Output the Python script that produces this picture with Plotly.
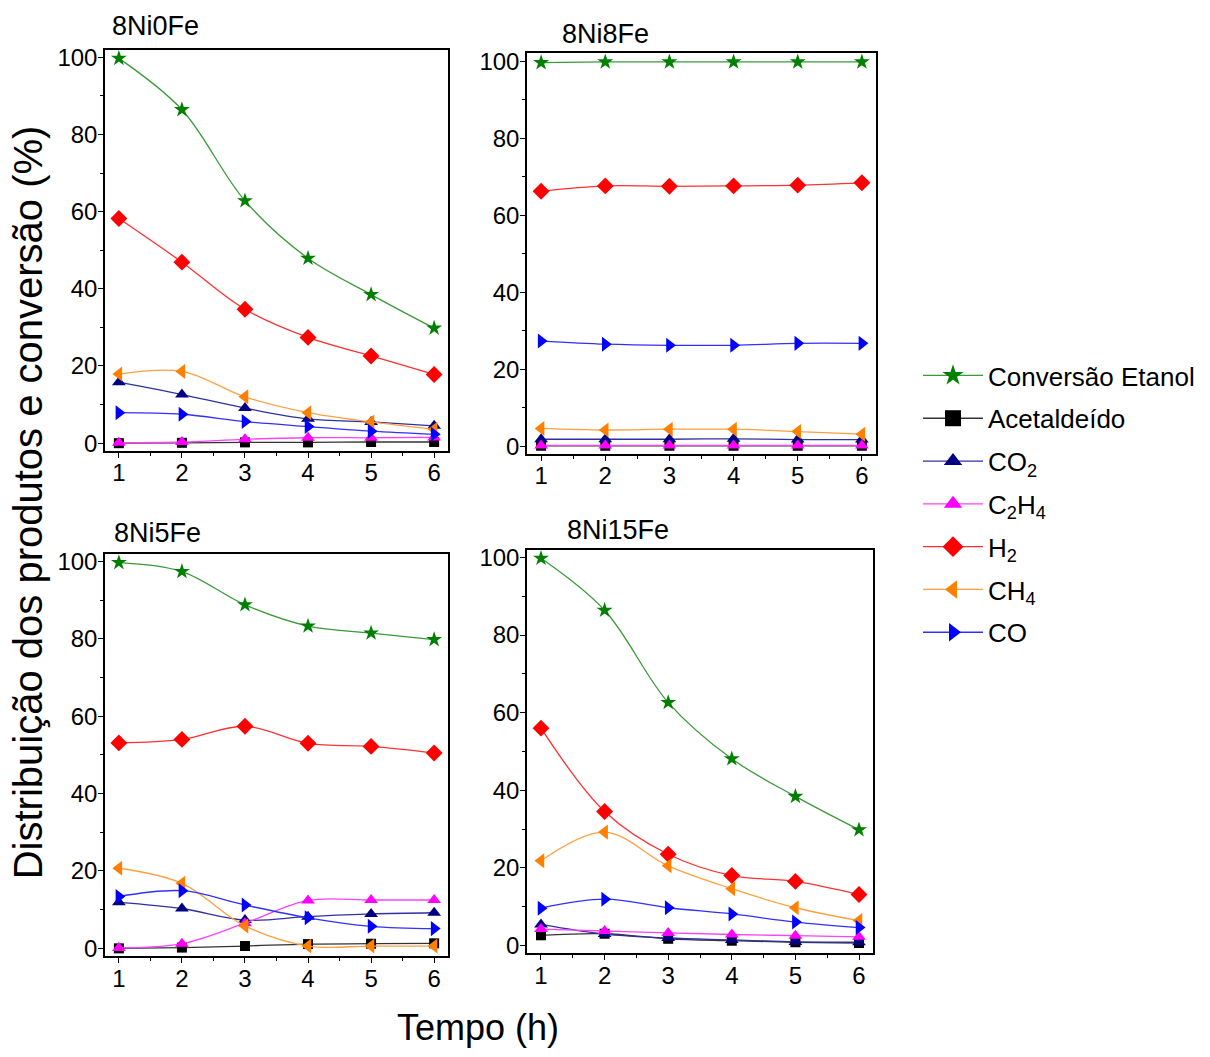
import plotly.graph_objects as go

# ---------------- data ----------------
tempo = [1, 2, 3, 4, 5, 6]
panels = ["8Ni0Fe", "8Ni8Fe", "8Ni5Fe", "8Ni15Fe"]

series_names = ["Conversão Etanol", "Acetaldeído", "CO<sub>2</sub>", "C<sub>2</sub>H<sub>4</sub>",
                "H<sub>2</sub>", "CH<sub>4</sub>", "CO"]

# 8Ni0Fe
ni0_conv = [99.7, 86.4, 62.8, 47.9, 38.5, 29.8]
ni0_acet = [0.0, 0.1, 0.2, 0.2, 0.3, 0.3]
ni0_co2 = [15.8, 12.6, 9.1, 6.3, 5.5, 4.5]
ni0_c2h4 = [0.1, 0.3, 1.0, 1.4, 1.4, 1.5]
ni0_h2 = [58.2, 46.9, 34.7, 27.4, 22.6, 17.8]
ni0_ch4 = [17.9, 18.6, 12.0, 7.9, 5.5, 3.6]
ni0_co = [7.9, 7.5, 5.6, 4.3, 3.1, 2.3]

# 8Ni8Fe
ni8_conv = [99.6, 99.8, 99.8, 99.8, 99.8, 99.8]
ni8_acet = [0.1, 0.1, 0.1, 0.1, 0.1, 0.1]
ni8_co2 = [1.8, 1.8, 1.8, 1.9, 1.7, 1.7]
ni8_c2h4 = [0.2, 0.2, 0.2, 0.2, 0.2, 0.2]
ni8_h2 = [66.2, 67.6, 67.5, 67.6, 67.8, 68.4]
ni8_ch4 = [4.6, 4.2, 4.4, 4.4, 3.8, 3.1]
ni8_co = [27.3, 26.5, 26.2, 26.2, 26.7, 26.7]

# 8Ni5Fe
ni5_conv = [99.7, 97.4, 88.8, 83.3, 81.5, 79.8]
ni5_acet = [0.0, 0.2, 0.6, 1.1, 1.2, 1.3]
ni5_co2 = [11.9, 10.3, 7.3, 8.2, 8.9, 9.2]
ni5_c2h4 = [0.1, 1.2, 6.5, 12.4, 12.5, 12.5]
ni5_h2 = [53.1, 54.0, 57.4, 53.0, 52.2, 50.5]
ni5_ch4 = [20.7, 16.8, 5.8, 0.6, 0.6, 0.6]
ni5_co = [13.4, 14.9, 11.2, 7.9, 5.7, 5.1]

# 8Ni15Fe
ni15_conv = [99.8, 86.4, 62.6, 48.1, 38.4, 29.8]
ni15_acet = [2.6, 3.0, 1.7, 1.2, 0.8, 0.6]
ni15_co2 = [5.4, 2.9, 1.9, 1.4, 0.9, 0.8]
ni15_c2h4 = [4.2, 3.7, 3.2, 2.8, 2.5, 2.2]
ni15_h2 = [56.0, 34.5, 23.5, 18.0, 16.5, 13.1]
ni15_ch4 = [21.8, 29.2, 20.5, 14.6, 9.7, 6.4]
ni15_co = [9.6, 11.9, 9.7, 8.1, 6.0, 4.6]

panel_data = [
    [ni0_conv, ni0_acet, ni0_co2, ni0_c2h4, ni0_h2, ni0_ch4, ni0_co],
    [ni8_conv, ni8_acet, ni8_co2, ni8_c2h4, ni8_h2, ni8_ch4, ni8_co],
    [ni5_conv, ni5_acet, ni5_co2, ni5_c2h4, ni5_h2, ni5_ch4, ni5_co],
    [ni15_conv, ni15_acet, ni15_co2, ni15_c2h4, ni15_h2, ni15_ch4, ni15_co],
]

# ---------------- styles ----------------
marker_colors = ["#008000", "#000000", "#000080", "#ff00ff", "#ff0000", "#ff8000", "#0000ff"]
line_colors = ["#3a9a3a", "#333333", "#3030a0", "#ff40ff", "#ff3030", "#ffa040", "#3030ff"]
symbols = ["star", "square", "triangle-up", "triangle-up", "diamond", "triangle-left", "triangle-right"]
sizes = [12, 10, 12, 12, 13, 13, 13]

W, H = 1210, 1057
# pixel boxes: (left, right, top, bottom)
boxes = [
    (105, 448, 44, 450),
    (527, 876, 48, 453),
    (105, 448, 554, 961),
    (527, 873, 550, 958),
]

FONT = "Liberation Sans, Arial, sans-serif"
fig = go.Figure()

for p, (name, data) in enumerate(zip(panels, panel_data)):
    ax = "" if p == 0 else str(p + 1)
    for s in range(7):
        fig.add_trace(go.Scatter(
            x=tempo, y=data[s], mode="lines+markers",
            line=dict(color=line_colors[s], width=1.3, shape="spline", smoothing=1.0),
            marker=dict(symbol=symbols[s], color=marker_colors[s], size=sizes[s], line=dict(width=0)),
            xaxis="x" + ax, yaxis="y" + ax, showlegend=False, name=series_names[s],
        ))

# legend-only traces (larger markers)
for s in range(7):
    fig.add_trace(go.Scatter(
        x=[None], y=[None], mode="lines+markers", name=series_names[s],
        legendgroup="g%d" % s,
        line=dict(color=line_colors[s], width=1.3),
        marker=dict(symbol=symbols[s], color=marker_colors[s], size=22, line=dict(width=0)),
        showlegend=True,
    ))

layout = dict(
    width=W, height=H, margin=dict(l=0, r=0, t=0, b=0),
    paper_bgcolor="white", plot_bgcolor="white",
    font=dict(family=FONT, size=24, color="black"),
    legend=dict(x=918 / W, y=1 - 350 / H, xanchor="left", yanchor="top",
                font=dict(size=26, family=FONT), tracegroupgap=6, itemwidth=60,
                bgcolor="rgba(0,0,0,0)"),
)

for p, (l, r, t, b) in enumerate(boxes):
    ax = "" if p == 0 else str(p + 1)
    layout["xaxis" + ax] = dict(
        domain=[l / W, r / W], anchor="y" + ax, range=[0.78, 6.22],
        tickmode="array", tickvals=tempo, ticktext=[str(v) for v in tempo],
        ticks="outside", ticklen=5, tickwidth=1.3, tickcolor="black",
        ticklabelstandoff=-5,
        showline=True, linecolor="black", linewidth=1.5, mirror=True,
        showgrid=False, zeroline=False, tickfont=dict(size=24),
        minor=dict(tickvals=[1.5, 2.5, 3.5, 4.5, 5.5], ticks="outside", ticklen=3,
                   tickwidth=1.2, tickcolor="black", showgrid=False),
    )
    layout["yaxis" + ax] = dict(
        domain=[1 - b / H, 1 - t / H], anchor="x" + ax, range=[-2, 102],
        tickmode="array", tickvals=[0, 20, 40, 60, 80, 100],
        ticks="outside", ticklen=5, tickwidth=1.3, tickcolor="black",
        ticklabelstandoff=-4,
        showline=True, linecolor="black", linewidth=1.5, mirror=True,
        showgrid=False, zeroline=False, tickfont=dict(size=24),
        minor=dict(tickvals=[10, 30, 50, 70, 90], ticks="outside", ticklen=3,
                   tickwidth=1.2, tickcolor="black", showgrid=False),
    )

fig.update_layout(**layout)

# panel titles
title_pos = [(110, 20), (560, 28), (112, 533), (565, 530)]
for name, (tx, ty) in zip(panels, title_pos):
    fig.add_annotation(text=name, x=tx / W, y=1 - ty / H, xref="paper", yref="paper",
                       xanchor="left", yanchor="middle", showarrow=False,
                       font=dict(size=27, family=FONT, color="black"))

# axis titles
fig.add_annotation(text="Tempo (h)", x=478 / W, y=1 - 1033 / H, xref="paper", yref="paper",
                   xanchor="center", yanchor="middle", showarrow=False,
                   font=dict(size=36, family=FONT, color="black"))
fig.add_annotation(text="Distribuição dos produtos e conversão (%)", x=28 / W, y=1 - 502 / H,
                   xref="paper", yref="paper", xanchor="center", yanchor="middle",
                   showarrow=False, textangle=-90,
                   font=dict(size=40, family=FONT, color="black"))

fig.write_html("out.html")
